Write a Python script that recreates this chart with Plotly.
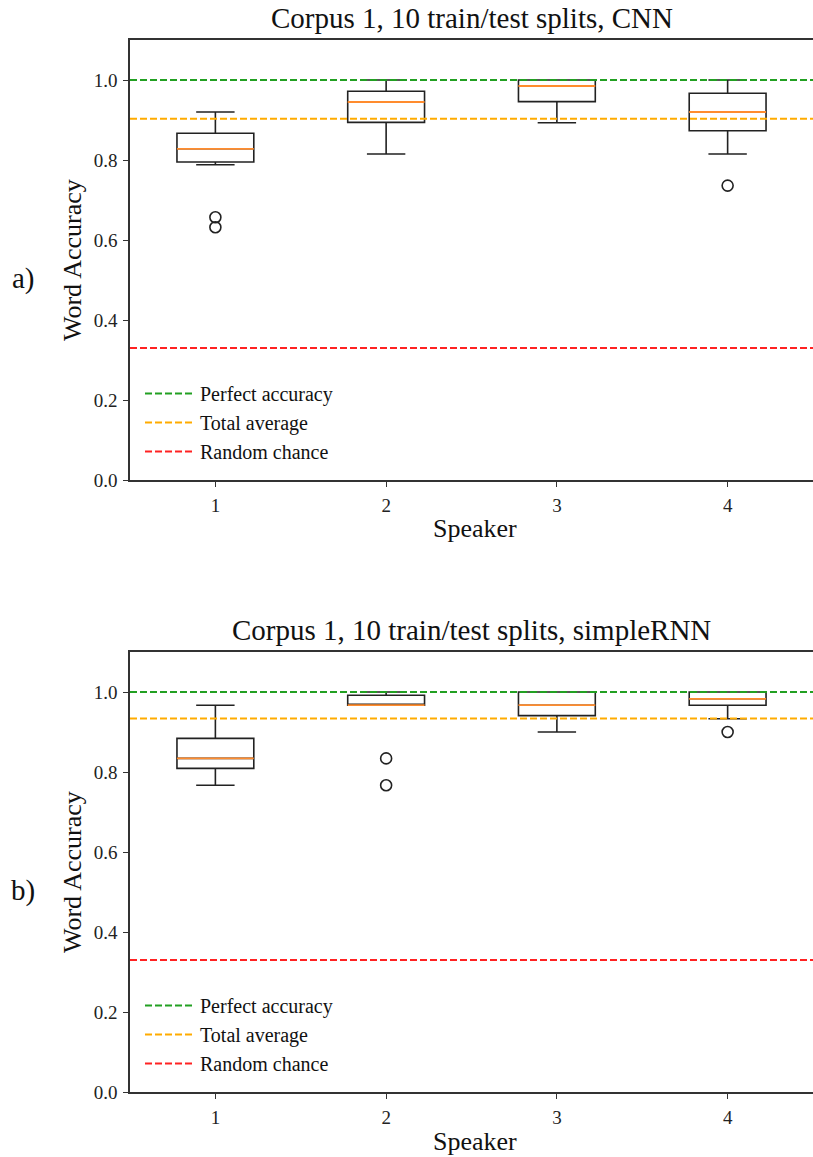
import plotly.graph_objects as go

W, H = 813, 1157

speakers = [1, 2, 3, 4]

# Panel a) CNN box statistics
cnn_lower = [0.788, 0.815, 0.893, 0.815]
cnn_q1 = [0.795, 0.894, 0.946, 0.873]
cnn_median = [0.828, 0.945, 0.985, 0.920]
cnn_q3 = [0.867, 0.972, 1.000, 0.967]
cnn_upper = [0.920, 1.000, 1.000, 1.000]
cnn_out_x = [1, 1, 4]
cnn_out_y = [0.657, 0.632, 0.736]
cnn_avg = 0.903

# Panel b) simpleRNN box statistics
rnn_lower = [0.767, 0.967, 0.900, 0.933]
rnn_q1 = [0.809, 0.967, 0.941, 0.967]
rnn_median = [0.834, 0.967, 0.967, 0.983]
rnn_q3 = [0.884, 0.992, 1.000, 1.000]
rnn_upper = [0.967, 1.000, 1.000, 1.000]
rnn_out_x = [2, 2, 4]
rnn_out_y = [0.834, 0.767, 0.900]
rnn_avg = 0.934

perfect = 1.0
random_chance = 0.33

titles = ["Corpus 1, 10 train/test splits, CNN", "Corpus 1, 10 train/test splits, simpleRNN"]
panel_labels = ["a)", "b)"]
legend_names = ["Perfect accuracy", "Total average", "Random chance"]
line_colors = ["#22a022", "#ffab00", "#ff2222"]
ytick_vals = [0.0, 0.2, 0.4, 0.6, 0.8, 1.0]

FONT = "Liberation Serif"
BOXW = 0.45
AX = "#333333"

fig = go.Figure()

# pixel layout
left_px = 130
panels_px = [(40, 480), (652, 1092)]
H_EFF = 1146


def py(p):
    return 1 - p / H_EFF


def px(p):
    return p / W


panels = [
    (cnn_lower, cnn_q1, cnn_median, cnn_q3, cnn_upper, cnn_out_x, cnn_out_y, cnn_avg),
    (rnn_lower, rnn_q1, rnn_median, rnn_q3, rnn_upper, rnn_out_x, rnn_out_y, rnn_avg),
]

for i, (lo, q1, med, q3, up, ox, oy, avg) in enumerate(panels):
    xa = "x" if i == 0 else "x2"
    ya = "y" if i == 0 else "y2"
    leg = "legend" if i == 0 else "legend2"
    # reference lines
    for name, val, col in zip(legend_names, [perfect, avg, random_chance], line_colors):
        fig.add_trace(go.Scatter(
            x=[0.5, 4.5], y=[val, val], mode="lines", name=name,
            line=dict(color=col, width=2, dash="7px,3px"),
            xaxis=xa, yaxis=ya, legend=leg, showlegend=True, hoverinfo="skip"))
    # boxes
    fig.add_trace(go.Box(
        x=speakers, q1=q1, median=med, q3=q3, lowerfence=lo, upperfence=up,
        width=BOXW, whiskerwidth=0.5, boxpoints=False,
        line=dict(color="#222222", width=1.6), fillcolor="rgba(255,255,255,0)",
        xaxis=xa, yaxis=ya, showlegend=False))
    # medians in orange
    for s, m in zip(speakers, med):
        fig.add_trace(go.Scatter(
            x=[s - BOXW / 2, s + BOXW / 2], y=[m, m], mode="lines",
            line=dict(color="#ff8c2e", width=1.8), xaxis=xa, yaxis=ya,
            showlegend=False, hoverinfo="skip"))
    # outliers
    fig.add_trace(go.Scatter(
        x=ox, y=oy, mode="markers",
        marker=dict(symbol="circle-open", size=11, color="#222222", line=dict(width=1.6)),
        xaxis=xa, yaxis=ya, showlegend=False))

axis_common = dict(showline=True, linecolor=AX, linewidth=1.5, ticks="outside",
                   ticklen=5, tickwidth=1.2, tickcolor=AX, showgrid=False, zeroline=False,
                   tickfont=dict(family=FONT, size=19, color="#222222"))

annotations = []
layout_axes = {}
for i, (top, bot) in enumerate(panels_px):
    sx = "" if i == 0 else "2"
    layout_axes["xaxis" + sx] = dict(
        axis_common, domain=[px(left_px), 1.0], range=[0.5, 4.5],
        tickvals=speakers, ticktext=[str(s) for s in speakers], mirror=True,
        anchor="y" + sx, ticklabelstandoff=2)
    layout_axes["yaxis" + sx] = dict(
        axis_common, domain=[py(bot), py(top)], range=[0, 1.1],
        tickvals=ytick_vals, tickformat=".1f", anchor="x" + sx, ticklabelstandoff=2)
    # title
    annotations.append(dict(text=titles[i], x=px((left_px + W) / 2), y=py(top - 4),
                            xref="paper", yref="paper", xanchor="center", yanchor="bottom",
                            showarrow=False, font=dict(family=FONT, size=29, color="#111111")))
    # x axis title
    annotations.append(dict(text="Speaker", x=px((left_px + W) / 2 + 4), y=py(bot + 49),
                            xref="paper", yref="paper", xanchor="center", yanchor="middle",
                            showarrow=False, font=dict(family=FONT, size=26, color="#111111")))
    # y axis title
    annotations.append(dict(text="Word Accuracy", x=px(72), y=py((top + bot) / 2),
                            xref="paper", yref="paper", xanchor="center", yanchor="middle",
                            textangle=-90, showarrow=False,
                            font=dict(family=FONT, size=26, color="#111111")))
    # panel label
    annotations.append(dict(text=panel_labels[i], x=px(23), y=py((top + bot) / 2 + 18),
                            xref="paper", yref="paper", xanchor="center", yanchor="middle",
                            showarrow=False, font=dict(family=FONT, size=29, color="#111111")))

legend_style = dict(bgcolor="rgba(0,0,0,0)", borderwidth=0, xanchor="left", yanchor="top",
                    font=dict(family=FONT, size=20, color="#111111"), tracegroupgap=2,
                    itemwidth=50)

fig.update_layout(
    width=W, height=H, margin=dict(l=0, r=0, t=0, b=0),
    paper_bgcolor="white", plot_bgcolor="white",
    annotations=annotations,
    legend=dict(legend_style, x=px(140), y=py(374)),
    legend2=dict(legend_style, x=px(140), y=py(986)),
    **layout_axes,
)

fig.write_html("out.html")
